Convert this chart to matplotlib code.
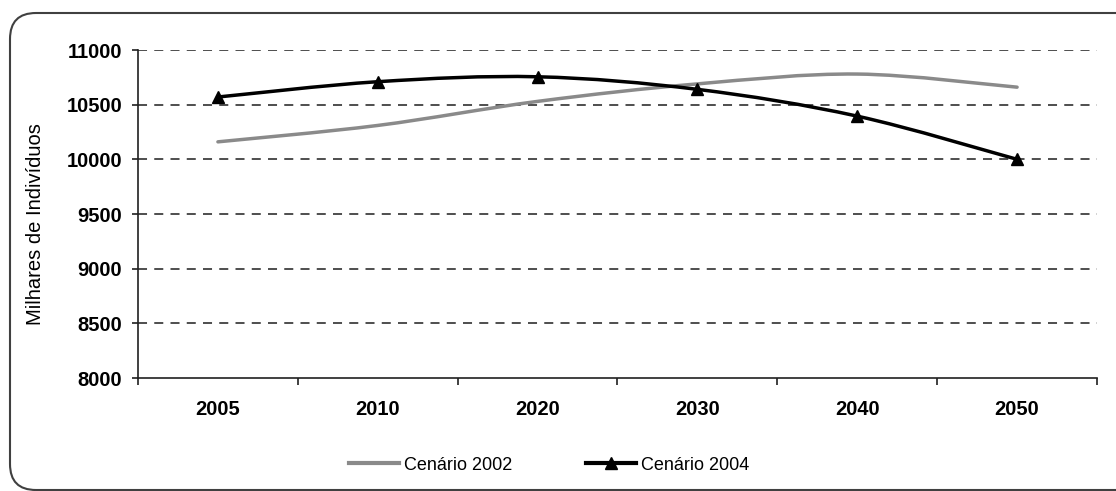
import matplotlib
matplotlib.use('Agg')
from matplotlib import pyplot as plt
from matplotlib.path import Path
from matplotlib.patches import PathPatch, FancyBboxPatch
from matplotlib.lines import Line2D
from matplotlib.transforms import IdentityTransform

# categories on the x axis
years = ['2005', '2010', '2020', '2030', '2040', '2050']

# population (thousands) for each scenario
cenario_2002 = [10160, 10310, 10530, 10690, 10780, 10660]
cenario_2004 = [10570, 10710, 10755, 10640, 10395, 10000]

y_ticks = [8000, 8500, 9000, 9500, 10000, 10500, 11000]


# builds a smoothed path through the points (like the excel smoothed line)
def smooth_path(xs, ys):
    pts = list(zip(xs, ys))
    verts = [pts[0]]
    codes = [Path.MOVETO]
    for i in range(len(pts) - 1):
        p0 = pts[i - 1] if i > 0 else pts[i]
        p1 = pts[i]
        p2 = pts[i + 1]
        p3 = pts[i + 2] if i + 2 < len(pts) else pts[i + 1]
        c1 = (p1[0] + (p2[0] - p0[0]) / 6, p1[1] + (p2[1] - p0[1]) / 6)
        c2 = (p2[0] - (p3[0] - p1[0]) / 6, p2[1] - (p3[1] - p1[1]) / 6)
        verts += [c1, c2, p2]
        codes += [Path.CURVE4] * 3
    return Path(verts, codes)


plt.rcParams['font.family'] = ['Liberation Sans', 'DejaVu Sans']

fig = plt.figure(figsize=(11.16, 4.91), dpi=100)
ax = fig.add_axes([138 / 1116, 113 / 491, 959 / 1116, 328 / 491])

x = list(range(len(years)))

gray = '#8a8a8a'

# cenario 2002, gray smooth line
ax.add_patch(PathPatch(smooth_path(x, cenario_2002), fill=False, edgecolor=gray,
                       lw=2.5, capstyle='round', zorder=3))

# cenario 2004, black smooth line with triangles
ax.add_patch(PathPatch(smooth_path(x, cenario_2004), fill=False, edgecolor='black',
                       lw=2.5, capstyle='round', zorder=4))
ax.plot(x, cenario_2004, linestyle='none', marker='^', markersize=9,
        color='black', zorder=5)

ax.set_xlim(-0.5, len(years) - 0.5)
ax.set_ylim(8000, 11000)

# dashed gridlines
for v in y_ticks[1:]:
    ax.axhline(v, color='#404040', lw=1.3, linestyle=(0, (5, 4)), zorder=1)

ax.spines['top'].set_visible(False)
ax.spines['right'].set_visible(False)
ax.spines['left'].set_linewidth(1.2)
ax.spines['bottom'].set_linewidth(1.2)
ax.spines['left'].set_color('#202020')
ax.spines['bottom'].set_color('#202020')

ax.set_yticks(y_ticks)
ax.set_yticklabels([str(v) for v in y_ticks], fontsize=14.5, fontweight='bold')
ax.tick_params(axis='y', direction='out', length=4.5, width=1.2, pad=7,
               color='#202020')

# category labels in the middle, tick marks between the categories
ax.set_xticks(x)
ax.set_xticklabels(years, fontsize=14.5, fontweight='bold')
ax.tick_params(axis='x', which='major', length=0, pad=16)
ax.set_xticks([i - 0.5 for i in range(len(years) + 1)], minor=True)
ax.tick_params(axis='x', which='minor', direction='out', length=5, width=1.2,
               color='#202020')

ax.set_ylabel('Milhares de Indivíduos', fontsize=14.5)
ax.yaxis.set_label_coords(-0.097, 0.47)

# legend under the chart
handles = [Line2D([], [], color=gray, lw=3),
           Line2D([], [], color='black', lw=3, marker='^', markersize=9)]
fig.legend(handles, ['Cenário 2002', 'Cenário 2004'], loc='center',
           bbox_to_anchor=(549 / 1116, 1 - 465 / 491), ncol=2, frameon=False,
           prop={'size': 13},
           handlelength=2.75, handletextpad=0.28, columnspacing=4.1, borderpad=0)

# rounded frame around the whole chart
frame = FancyBboxPatch((10, 1), 1140, 477, boxstyle='round,pad=0,rounding_size=26',
                       transform=IdentityTransform(), fill=False,
                       edgecolor='#404040', lw=1.5)
fig.add_artist(frame)

plt.savefig('out.png', dpi=100)
